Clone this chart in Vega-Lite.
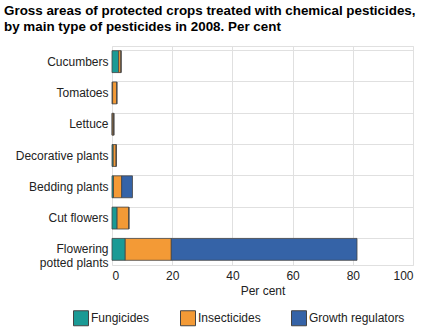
{
  "$schema": "https://vega.github.io/schema/vega-lite/v6.json",
  "width": 301,
  "height": 219,
  "autosize": {"type": "none"},
  "padding": {"left": 112, "right": 13, "top": 46, "bottom": 67},
  "background": "white",
  "title": {
    "text": ["Gross areas of protected crops treated with chemical pesticides,", "by main type of pesticides in 2008. Per cent"],
    "anchor": "start",
    "frame": "group",
    "dx": -108,
    "font": "Liberation Sans",
    "fontSize": 13.4,
    "fontWeight": "bold",
    "color": "#000000",
    "lineHeight": 16,
    "offset": 13
  },
  "config": {
    "font": "Liberation Sans",
    "view": {"stroke": "#e0e0e0", "strokeWidth": 1}
  },
  "data": {
    "values": [
      {"crop": "Cucumbers", "type": "Fungicides", "k": 1, "value": 2.2},
      {"crop": "Cucumbers", "type": "Insecticides", "k": 2, "value": 0.8},
      {"crop": "Cucumbers", "type": "Growth regulators", "k": 3, "value": 0},
      {"crop": "Tomatoes", "type": "Fungicides", "k": 1, "value": 0.2},
      {"crop": "Tomatoes", "type": "Insecticides", "k": 2, "value": 1.4},
      {"crop": "Tomatoes", "type": "Growth regulators", "k": 3, "value": 0},
      {"crop": "Lettuce", "type": "Fungicides", "k": 1, "value": 0.1},
      {"crop": "Lettuce", "type": "Insecticides", "k": 2, "value": 0.5},
      {"crop": "Lettuce", "type": "Growth regulators", "k": 3, "value": 0},
      {"crop": "Decorative plants", "type": "Fungicides", "k": 1, "value": 0.4},
      {"crop": "Decorative plants", "type": "Insecticides", "k": 2, "value": 1.0},
      {"crop": "Decorative plants", "type": "Growth regulators", "k": 3, "value": 0},
      {"crop": "Bedding plants", "type": "Fungicides", "k": 1, "value": 0.5},
      {"crop": "Bedding plants", "type": "Insecticides", "k": 2, "value": 2.7},
      {"crop": "Bedding plants", "type": "Growth regulators", "k": 3, "value": 3.6},
      {"crop": "Cut flowers", "type": "Fungicides", "k": 1, "value": 1.7},
      {"crop": "Cut flowers", "type": "Insecticides", "k": 2, "value": 3.9},
      {"crop": "Cut flowers", "type": "Growth regulators", "k": 3, "value": 0},
      {"crop": "Flowering potted plants", "type": "Fungicides", "k": 1, "value": 4.4},
      {"crop": "Flowering potted plants", "type": "Insecticides", "k": 2, "value": 15.3},
      {"crop": "Flowering potted plants", "type": "Growth regulators", "k": 3, "value": 61.7}
    ]
  },
  "mark": {"type": "bar", "stroke": "#444444", "strokeWidth": 1, "strokeOpacity": 0.8},
  "encoding": {
    "y": {
      "field": "crop",
      "type": "nominal",
      "sort": null,
      "title": null,
      "scale": {"paddingInner": 0.3, "paddingOuter": 0.15},
      "axis": {
        "domain": false,
        "ticks": false,
        "grid": true,
        "bandPosition": 0,
        "gridColor": "#e0e0e0",
        "labelFontSize": 12,
        "labelColor": "#222222",
        "labelPadding": 4,
        "labelExpr": "datum.label == 'Flowering potted plants' ? ['Flowering', 'potted plants'] : datum.label"
      }
    },
    "x": {
      "field": "value",
      "type": "quantitative",
      "stack": "zero",
      "scale": {"domain": [0, 100], "nice": false},
      "title": "Per cent",
      "axis": {
        "values": [0, 20, 40, 60, 80, 100],
        "domain": false,
        "ticks": false,
        "gridColor": "#e0e0e0",
        "labelFontSize": 12,
        "labelColor": "#222222",
        "labelPadding": 5,
        "titleFontSize": 12,
        "titleFontWeight": "normal",
        "titleColor": "#222222",
        "titlePadding": 4
      }
    },
    "color": {
      "field": "type",
      "type": "nominal",
      "sort": ["Fungicides", "Insecticides", "Growth regulators"],
      "scale": {
        "domain": ["Fungicides", "Insecticides", "Growth regulators"],
        "range": ["#1a9a95", "#f39a36", "#3563a7"]
      },
      "legend": {
        "title": null,
        "orient": "none",
        "legendX": -39,
        "legendY": 264,
        "direction": "horizontal",
        "symbolType": "square",
        "symbolSize": 225,
        "symbolStrokeColor": "#444444",
        "symbolStrokeWidth": 1,
        "labelFontSize": 12,
        "labelColor": "#222222",
        "labelOffset": 2,
        "columnPadding": 28
      }
    },
    "order": {"field": "k", "type": "quantitative", "sort": "ascending"}
  }
}
